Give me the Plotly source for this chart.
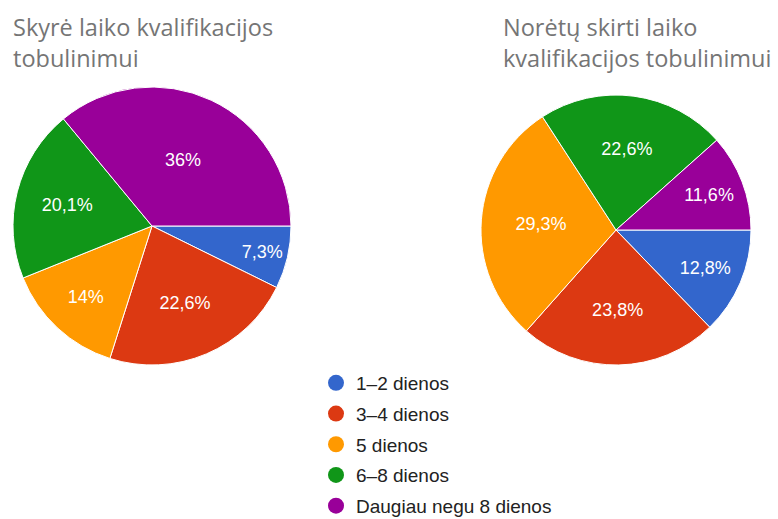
import plotly.graph_objects as go

W, H = 778, 519

categories = ["1–2 dienos", "3–4 dienos", "5 dienos", "6–8 dienos", "Daugiau negu 8 dienos"]
colors = ["#3366cc", "#dc3912", "#ff9900", "#109618", "#990099"]

spent_pct = [7.3, 22.6, 14.0, 20.1, 36.0]
wanted_pct = [12.8, 23.8, 29.3, 22.6, 11.6]

title_left = "Skyrė laiko kvalifikacijos<br>tobulinimui"
title_right = "Norėtų skirti laiko<br>kvalifikacijos tobulinimui"


def fmt(v):
    s = f"{v:.1f}".rstrip("0").rstrip(".")
    return s.replace(".", ",") + "%"


def px_dom(x0, x1, y0, y1):
    # pixel box -> paper domain
    return dict(x=[x0 / W, x1 / W], y=[1 - y1 / H, 1 - y0 / H])


fig = go.Figure()

for vals, dom in [(spent_pct, px_dom(13, 291, 87, 365)),
                  (wanted_pct, px_dom(481, 751, 95, 365))]:
    fig.add_trace(go.Pie(
        labels=categories, values=vals, text=[fmt(v) for v in vals],
        textinfo="text", textposition="inside", insidetextorientation="horizontal",
        sort=False, direction="clockwise", rotation=90,
        marker=dict(colors=colors, line=dict(color="white", width=1)),
        textfont=dict(family="Liberation Sans, Arial", size=18, color="white"),
        domain=dom, showlegend=False, hoverinfo="label+percent",
    ))

# legend with round markers
for i, (cat, col) in enumerate(zip(categories, colors)):
    fig.add_trace(go.Scatter(
        x=[None], y=[None], mode="markers", name=cat, legendgroup=str(i),
        marker=dict(color=col, size=16, symbol="circle"),
    ))

for txt, x in [(title_left, 11), (title_right, 501)]:
    fig.add_annotation(
        text=txt, x=x / W, y=1 - 43 / H, xref="paper", yref="paper",
        xanchor="left", yanchor="middle", align="left", showarrow=False,
        font=dict(family="Open Sans", size=23.5, color="#757575"),
    )

fig.update_layout(
    width=W, height=H, margin=dict(l=0, r=0, t=0, b=0, autoexpand=False),
    paper_bgcolor="white", plot_bgcolor="white",
    xaxis=dict(visible=False), yaxis=dict(visible=False),
    uniformtext=dict(minsize=18, mode="show"),
    legend=dict(x=316 / W, y=1 - 364 / H, xanchor="left", yanchor="top",
                font=dict(family="Liberation Sans, Arial", size=19, color="#222222"),
                tracegroupgap=3, itemwidth=30),
)

fig.write_html("out.html", config={"displayModeBar": False},
               post_script="document.body.style.margin = '0';")
